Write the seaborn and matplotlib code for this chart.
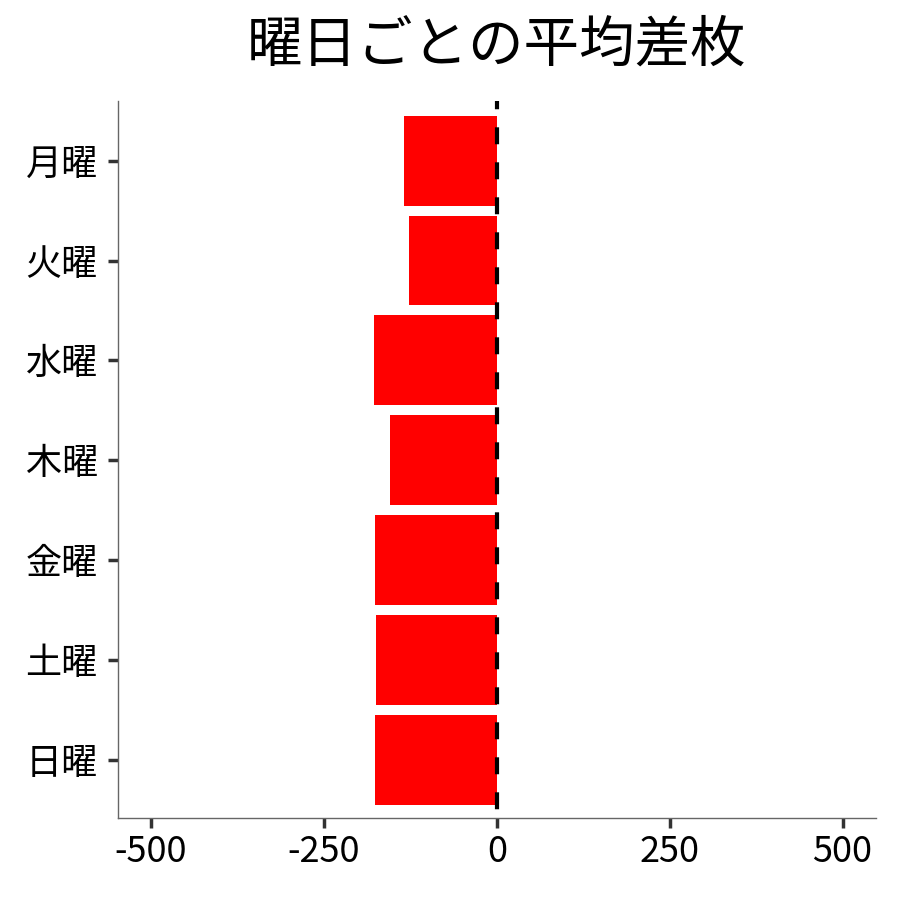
import matplotlib
matplotlib.use("Agg")
import matplotlib.pyplot as plt
import seaborn as sns
import pandas as pd

days = ["月曜", "火曜", "水曜", "木曜", "金曜", "土曜", "日曜"]
avg_diff = [-134, -127, -178, -155, -176, -175, -176]
xticks = [-500, -250, 0, 250, 500]
title = "曜日ごとの平均差枚"

sns.set_style("white")
plt.rcParams['font.family'] = ['Noto Sans CJK JP', 'DejaVu Sans']
plt.rcParams['text.color'] = 'black'

df = pd.DataFrame({"day": days, "diff": avg_diff})

fig = plt.figure(figsize=(9, 9), dpi=100)
ax = fig.add_axes([0.131, 0.091, 0.842, 0.797])
sns.barplot(data=df, x="diff", y="day", order=days, color="#ff0000",
            saturation=1, width=0.9, linewidth=0, ax=ax)

lw = 3.0
ax.axvline(0, color="black", linewidth=lw,
           linestyle=(18.9 / lw, (12.2 / lw, 13.0 / lw)), zorder=5)

ax.set_xlim(-548, 548)
ax.set_ylim(6.585, -0.6)
ax.set_xticks(xticks)
ax.set_xticklabels([str(v) for v in xticks])
ax.set_xlabel("")
ax.set_ylabel("")
ax.set_title(title, fontsize=40, pad=28, color="black")

for s in ["top", "right"]:
    ax.spines[s].set_visible(False)
for s in ["left", "bottom"]:
    ax.spines[s].set_color("#666666")
    ax.spines[s].set_linewidth(1.0)

ax.tick_params(axis="both", which="major", labelsize=26, colors="#333333",
               labelcolor="black", width=2.5, length=7.5,
               bottom=True, left=True)
ax.tick_params(axis="y", pad=7)
ax.tick_params(axis="x", pad=4)

fig.savefig("out.png", dpi=100)
